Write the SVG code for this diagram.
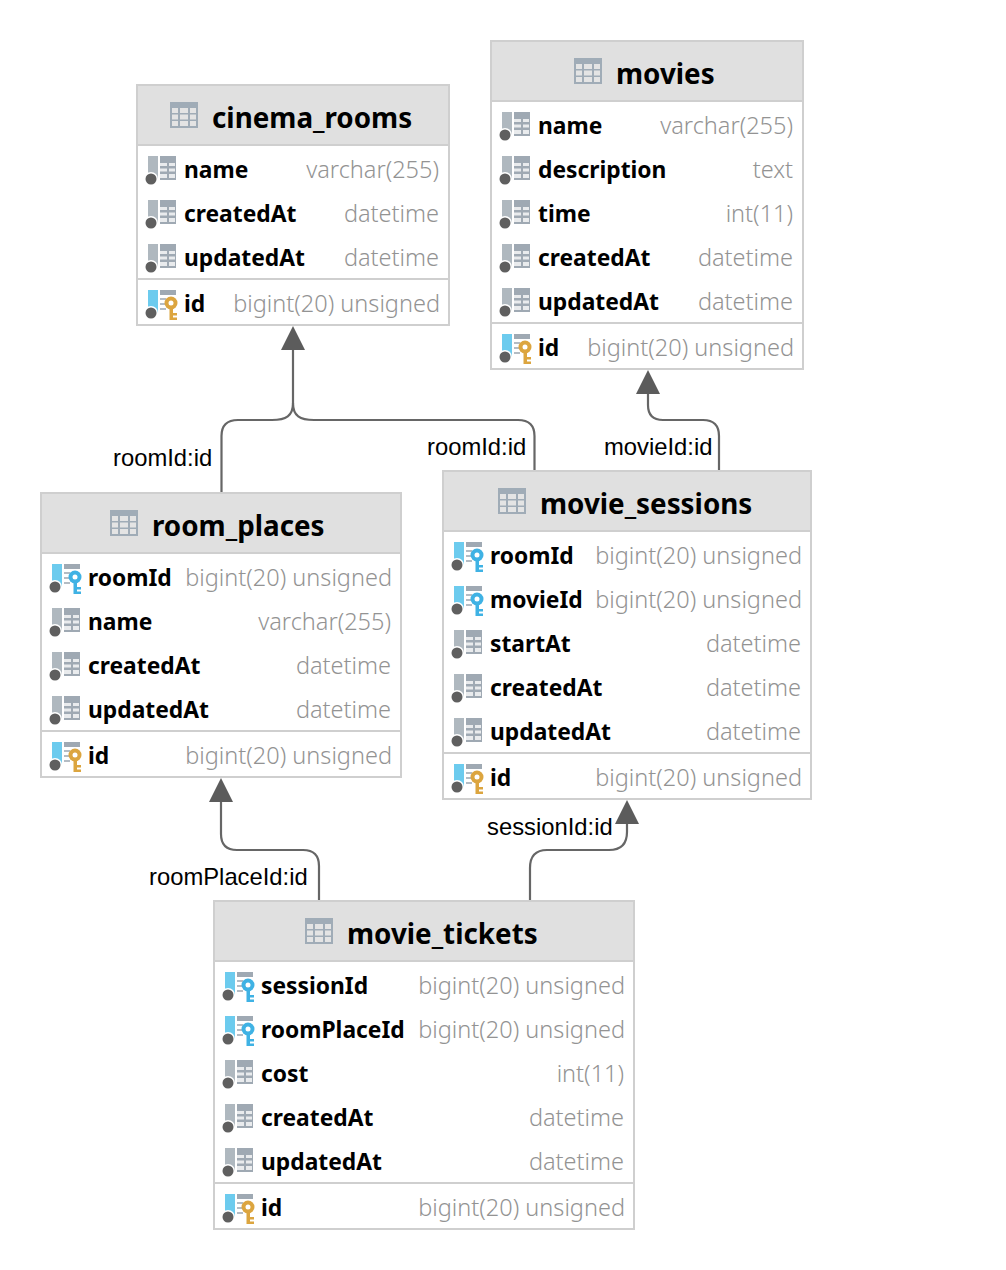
<svg xmlns="http://www.w3.org/2000/svg" width="1006" height="1270" viewBox="0 0 1006 1270">
<style>
.box{fill:#fff;stroke:#cfcfcf;stroke-width:2}
.hd{fill:#e0e0e0}
.dv{stroke:#cfcfcf;stroke-width:2}
.title{font-family:"Noto Sans","Open Sans",sans-serif;font-weight:700;font-size:27.8px;fill:#000}
.n{font-family:"Noto Sans","Open Sans",sans-serif;font-weight:700;font-size:22.8px;fill:#000}
.t{font-family:"Noto Sans","Open Sans",sans-serif;font-weight:300;font-size:23.5px;fill:#939393;text-anchor:end}
.e{font-family:"Liberation Sans",Arial,sans-serif;font-size:23.8px;fill:#000}
.c{fill:none;stroke:#666;stroke-width:2.2}
.a{fill:#5c5c5c}
</style>
<defs>
<g id="tbl"><rect x="0" y="-1" width="28" height="26" fill="#a0acb7"/><g fill="#e4e4e4"><rect x="2" y="5" width="6" height="5"/><rect x="10" y="5" width="8" height="5"/><rect x="20" y="5" width="6" height="5"/><rect x="2" y="11.5" width="6" height="5"/><rect x="10" y="11.5" width="8" height="5"/><rect x="20" y="11.5" width="6" height="5"/><rect x="2" y="18" width="6" height="5"/><rect x="10" y="18" width="8" height="5"/><rect x="20" y="18" width="6" height="5"/></g></g>
<g id="dot"><circle cx="4" cy="23" r="7" fill="#fff"/><circle cx="4" cy="23" r="5.5" fill="#5f5f5f"/></g>
<g id="col"><rect x="1" y="0" width="10" height="23" fill="#afb8bf"/><use href="#dot"/><rect x="13" y="0" width="16" height="24" fill="#9fa9b3"/><g fill="#e9ebed"><rect x="13" y="7" width="7" height="3"/><rect x="22" y="7" width="6" height="3"/><rect x="13" y="12.5" width="7" height="3"/><rect x="22" y="12.5" width="6" height="3"/><rect x="13" y="18" width="7" height="4"/><rect x="22" y="18" width="6" height="4"/></g></g>
<g id="keyrows"><rect x="1" y="0" width="10" height="23" fill="#6ccbee"/><use href="#dot"/><rect x="13" y="0" width="16" height="5" fill="#9fa9b3"/><g fill="#b4bcc4"><rect x="13" y="8" width="6" height="2"/><rect x="13" y="13" width="6" height="2"/><rect x="13" y="18" width="6" height="2"/></g></g>
<g id="pk"><use href="#keyrows"/><g fill="#dca53f"><circle cx="24" cy="13" r="6.5"/><rect x="22.500" y="16" width="3.500" height="14"/><rect x="26" y="23" width="4" height="2.500"/><rect x="26" y="27.500" width="4" height="2.500"/></g><circle cx="24" cy="13" r="2.500" fill="#fff"/></g>
<g id="fk"><use href="#keyrows"/><g fill="#3fb2e4"><circle cx="24" cy="13" r="6.5"/><rect x="22.500" y="16" width="3.500" height="14"/><rect x="26" y="23" width="4" height="2.500"/><rect x="26" y="27.500" width="4" height="2.500"/></g><circle cx="24" cy="13" r="2.500" fill="#fff"/></g>
</defs>

<g id="connectors">
<path class="c" d="M293 345V403C293 416 286 420 272 420H238Q221.500 420 221.500 436V492"/>
<path class="c" d="M293 403C293 416 300 420 314 420H518Q534.500 420 534.500 436V470"/>
<path class="c" d="M648 385V405Q648 420 663 420H703Q719 420 719 436V470"/>
<path class="c" d="M221 795V834Q221 850 237 850H303Q319 850 319 866V900"/>
<path class="c" d="M627 815V832Q627 850 609 850H547Q530 850 530 868V900"/>
<polygon class="a" points="293,326 305,350 281,350"/>
<polygon class="a" points="648,370 660,394 636,394"/>
<polygon class="a" points="221,778 233,802 209,802"/>
<polygon class="a" points="627,800 639,824 615,824"/>
<text class="e" x="113" y="466">roomId:id</text>
<text class="e" x="427" y="455">roomId:id</text>
<text class="e" x="604" y="455">movieId:id</text>
<text class="e" x="149" y="885">roomPlaceId:id</text>
<text class="e" x="487" y="835">sessionId:id</text>
</g>

<g id="cinema_rooms">
<rect class="box" x="137" y="85" width="312" height="240"/><rect class="hd" x="138" y="86" width="310" height="59"/><line class="dv" x1="137" x2="449" y1="145" y2="145"/><line class="dv" x1="137" x2="449" y1="279" y2="279"/>
<use href="#tbl" x="170" y="103"/><text class="title" x="212" y="128">cinema_rooms</text>
<use href="#col" x="147" y="156"/><text class="n" x="184" y="178">name</text><text class="t" x="439" y="178">varchar(255)</text>
<use href="#col" x="147" y="200"/><text class="n" x="184" y="222">createdAt</text><text class="t" x="439" y="222">datetime</text>
<use href="#col" x="147" y="244"/><text class="n" x="184" y="266">updatedAt</text><text class="t" x="439" y="266">datetime</text>
<use href="#pk" x="147" y="290"/><text class="n" x="184" y="312">id</text><text class="t" x="440" y="312">bigint(20) unsigned</text>
</g>

<g id="movies">
<rect class="box" x="491" y="41" width="312" height="328"/><rect class="hd" x="492" y="42" width="310" height="59"/><line class="dv" x1="491" x2="803" y1="101" y2="101"/><line class="dv" x1="491" x2="803" y1="323" y2="323"/>
<use href="#tbl" x="574" y="59"/><text class="title" x="616" y="84">movies</text>
<use href="#col" x="501" y="112"/><text class="n" x="538" y="134">name</text><text class="t" x="793" y="134">varchar(255)</text>
<use href="#col" x="501" y="156"/><text class="n" x="538" y="178">description</text><text class="t" x="793" y="178">text</text>
<use href="#col" x="501" y="200"/><text class="n" x="538" y="222">time</text><text class="t" x="793" y="222">int(11)</text>
<use href="#col" x="501" y="244"/><text class="n" x="538" y="266">createdAt</text><text class="t" x="793" y="266">datetime</text>
<use href="#col" x="501" y="288"/><text class="n" x="538" y="310">updatedAt</text><text class="t" x="793" y="310">datetime</text>
<use href="#pk" x="501" y="334"/><text class="n" x="538" y="356">id</text><text class="t" x="794" y="356">bigint(20) unsigned</text>
</g>

<g id="room_places">
<rect class="box" x="41" y="493" width="360" height="284"/><rect class="hd" x="42" y="494" width="358" height="59"/><line class="dv" x1="41" x2="401" y1="553" y2="553"/><line class="dv" x1="41" x2="401" y1="731" y2="731"/>
<use href="#tbl" x="110" y="511"/><text class="title" x="152" y="536">room_places</text>
<use href="#fk" x="51" y="564"/><text class="n" x="88" y="586">roomId</text><text class="t" x="392" y="586">bigint(20) unsigned</text>
<use href="#col" x="51" y="608"/><text class="n" x="88" y="630">name</text><text class="t" x="391" y="630">varchar(255)</text>
<use href="#col" x="51" y="652"/><text class="n" x="88" y="674">createdAt</text><text class="t" x="391" y="674">datetime</text>
<use href="#col" x="51" y="696"/><text class="n" x="88" y="718">updatedAt</text><text class="t" x="391" y="718">datetime</text>
<use href="#pk" x="51" y="742"/><text class="n" x="88" y="764">id</text><text class="t" x="392" y="764">bigint(20) unsigned</text>
</g>

<g id="movie_sessions">
<rect class="box" x="443" y="471" width="368" height="328"/><rect class="hd" x="444" y="472" width="366" height="59"/><line class="dv" x1="443" x2="811" y1="531" y2="531"/><line class="dv" x1="443" x2="811" y1="753" y2="753"/>
<use href="#tbl" x="498" y="489"/><text class="title" x="540" y="514">movie_sessions</text>
<use href="#fk" x="453" y="542"/><text class="n" x="490" y="564">roomId</text><text class="t" x="802" y="564">bigint(20) unsigned</text>
<use href="#fk" x="453" y="586"/><text class="n" x="490" y="608">movieId</text><text class="t" x="802" y="608">bigint(20) unsigned</text>
<use href="#col" x="453" y="630"/><text class="n" x="490" y="652">startAt</text><text class="t" x="801" y="652">datetime</text>
<use href="#col" x="453" y="674"/><text class="n" x="490" y="696">createdAt</text><text class="t" x="801" y="696">datetime</text>
<use href="#col" x="453" y="718"/><text class="n" x="490" y="740">updatedAt</text><text class="t" x="801" y="740">datetime</text>
<use href="#pk" x="453" y="764"/><text class="n" x="490" y="786">id</text><text class="t" x="802" y="786">bigint(20) unsigned</text>
</g>

<g id="movie_tickets">
<rect class="box" x="214" y="901" width="420" height="328"/><rect class="hd" x="215" y="902" width="418" height="59"/><line class="dv" x1="214" x2="634" y1="961" y2="961"/><line class="dv" x1="214" x2="634" y1="1183" y2="1183"/>
<use href="#tbl" x="305" y="919"/><text class="title" x="347" y="944">movie_tickets</text>
<use href="#fk" x="224" y="972"/><text class="n" x="261" y="994">sessionId</text><text class="t" x="625" y="994">bigint(20) unsigned</text>
<use href="#fk" x="224" y="1016"/><text class="n" x="261" y="1038">roomPlaceId</text><text class="t" x="625" y="1038">bigint(20) unsigned</text>
<use href="#col" x="224" y="1060"/><text class="n" x="261" y="1082">cost</text><text class="t" x="624" y="1082">int(11)</text>
<use href="#col" x="224" y="1104"/><text class="n" x="261" y="1126">createdAt</text><text class="t" x="624" y="1126">datetime</text>
<use href="#col" x="224" y="1148"/><text class="n" x="261" y="1170">updatedAt</text><text class="t" x="624" y="1170">datetime</text>
<use href="#pk" x="224" y="1194"/><text class="n" x="261" y="1216">id</text><text class="t" x="625" y="1216">bigint(20) unsigned</text>
</g>
</svg>
